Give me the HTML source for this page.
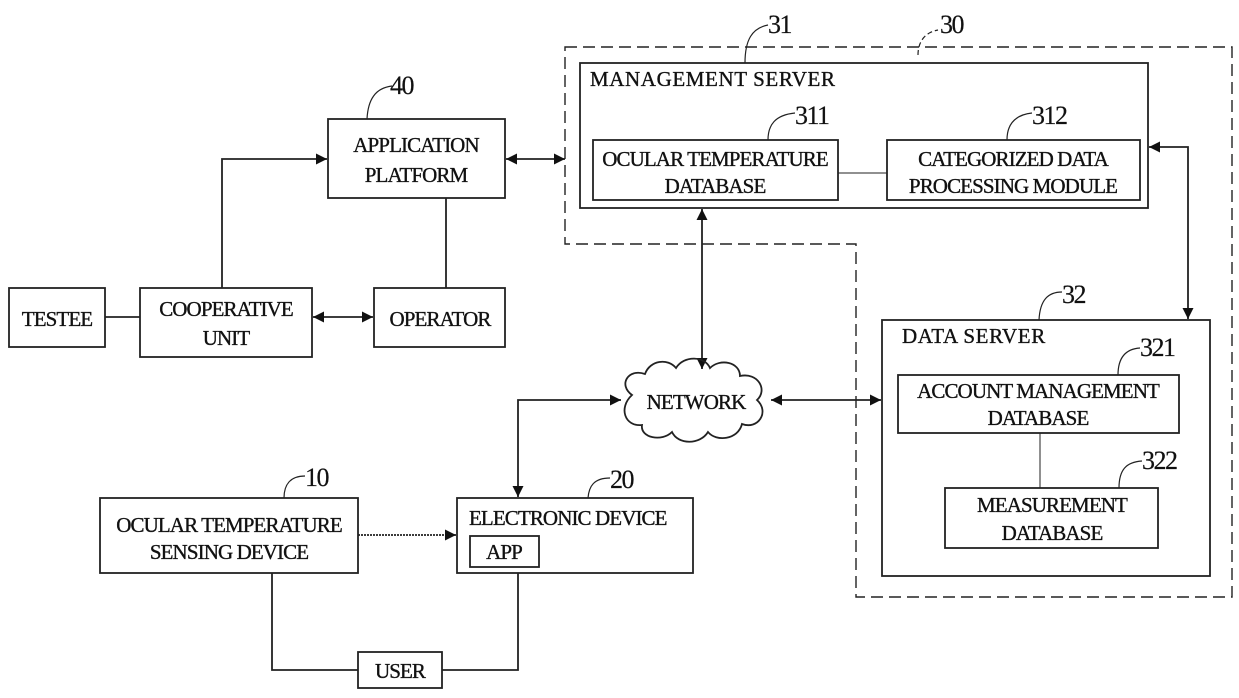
<!DOCTYPE html>
<html><head><meta charset="utf-8"><style>
html,body{margin:0;padding:0;background:#fff;}
svg{display:block;}
text{font-family:"Liberation Serif",serif;font-size:21px;fill:#111;stroke:#111;stroke-width:0.35;letter-spacing:-0.9px;}
.w{letter-spacing:0.6px;}
.n{font-size:26px;letter-spacing:-1.5px;stroke-width:0.2;}
</style></head><body>
<svg width="1239" height="698" viewBox="0 0 1239 698" xmlns="http://www.w3.org/2000/svg">
<defs>
<marker id="a" viewBox="0 0 10 10" refX="10" refY="5" markerWidth="11" markerHeight="11" orient="auto-start-reverse" markerUnits="userSpaceOnUse"><path d="M0,0 L10,5 L0,10 z" fill="#111"/></marker>
</defs>
<g fill="none" stroke="#222" stroke-width="1.8">
<path d="M565,47 H1232 V597 H856 V244 H565 Z" stroke-dasharray="12,6" stroke-width="1.4"/>
<rect x="9" y="288" width="96" height="59"/>
<rect x="140" y="288" width="172" height="69"/>
<rect x="374" y="288" width="131" height="59"/>
<rect x="328" y="119" width="177" height="79"/>
<rect x="580" y="63" width="568" height="145"/>
<rect x="593" y="140" width="245" height="60"/>
<rect x="887" y="140" width="253" height="60"/>
<rect x="882" y="320" width="328" height="256"/>
<rect x="898" y="375" width="281" height="58"/>
<rect x="945" y="488" width="213" height="60"/>
<rect x="100" y="498" width="258" height="75"/>
<rect x="457" y="498" width="236" height="75"/>
<rect x="470" y="536" width="69" height="31"/>
<rect x="358" y="652" width="84" height="36"/>
<path d="M105,317 H140"/>
<path d="M446,198 V288"/>
<path d="M838,173 H887" stroke-width="1"/>
<path d="M1040,433 V488" stroke-width="1"/>
<path d="M272,573 V670 H358"/>
<path d="M442,670 H518 V573"/>
<path d="M222,288 V159 H327" marker-end="url(#a)"/>
<path d="M313,317 H373" marker-start="url(#a)" marker-end="url(#a)"/>
<path d="M506,159 H565" marker-start="url(#a)" marker-end="url(#a)"/>
<path d="M1149,147 H1188 V319" marker-start="url(#a)" marker-end="url(#a)"/>
<path d="M702,209 V369" marker-start="url(#a)" marker-end="url(#a)"/>
<path d="M771,400 H881" marker-start="url(#a)" marker-end="url(#a)"/>
<path d="M621,400 H518 V497" marker-start="url(#a)" marker-end="url(#a)"/>
<path d="M358,535 H456" marker-end="url(#a)" stroke-dasharray="2,1"/>
<path d="M632,395 C618,385 628,368 645,374 C650,360 668,358 676,368 C684,355 705,356 710,368 C720,358 740,362 740,376 C758,372 768,390 757,400 C770,412 758,430 742,424 C738,440 716,442 708,432 C700,445 678,445 672,432 C662,442 640,438 642,425 C625,427 618,408 632,395 Z"/>
<path d="M367,119 C368,100 375,88 392,86" stroke-width="1.2"/>
<path d="M745,63 C745,40 752,28 768,25" stroke-width="1.2"/>
<path d="M918,55 C918,45 922,33 938,30" stroke-width="1.2" stroke-dasharray="5,3"/>
<path d="M768,140 C768,125 775,115 795,113" stroke-width="1.2"/>
<path d="M1007,140 C1007,125 1014,115 1032,113" stroke-width="1.2"/>
<path d="M1039,320 C1040,300 1048,292 1062,292" stroke-width="1.2"/>
<path d="M1118,375 C1118,358 1125,349 1140,348" stroke-width="1.2"/>
<path d="M1119,488 C1119,470 1126,462 1142,461" stroke-width="1.2"/>
<path d="M284,498 C284,485 290,476 305,476" stroke-width="1.2"/>
<path d="M588,498 C589,486 594,478 610,478" stroke-width="1.2"/>
</g>
<text x="57" y="326" text-anchor="middle">TESTEE</text>
<text x="226" y="316" text-anchor="middle">COOPERATIVE</text>
<text x="226" y="345" text-anchor="middle">UNIT</text>
<text x="440" y="326" text-anchor="middle">OPERATOR</text>
<text x="416" y="152" text-anchor="middle">APPLICATION</text>
<text x="416" y="182" text-anchor="middle">PLATFORM</text>
<text class="w" x="590" y="86">MANAGEMENT SERVER</text>
<text x="715" y="166" text-anchor="middle">OCULAR TEMPERATURE</text>
<text x="715" y="193" text-anchor="middle">DATABASE</text>
<text x="1013" y="166" text-anchor="middle">CATEGORIZED DATA</text>
<text x="1013" y="193" text-anchor="middle">PROCESSING MODULE</text>
<text class="w" x="902" y="343">DATA SERVER</text>
<text x="1038" y="398" text-anchor="middle">ACCOUNT MANAGEMENT</text>
<text x="1038" y="425" text-anchor="middle">DATABASE</text>
<text x="1052" y="512" text-anchor="middle">MEASUREMENT</text>
<text x="1052" y="540" text-anchor="middle">DATABASE</text>
<text x="696" y="409" text-anchor="middle">NETWORK</text>
<text x="229" y="532" text-anchor="middle">OCULAR TEMPERATURE</text>
<text x="229" y="559" text-anchor="middle">SENSING DEVICE</text>
<text x="469" y="525">ELECTRONIC DEVICE</text>
<text x="504" y="559" text-anchor="middle">APP</text>
<text x="400" y="678" text-anchor="middle">USER</text>
<text class="n" x="390" y="94">40</text>
<text class="n" x="768" y="33">31</text>
<text class="n" x="940" y="33">30</text>
<text class="n" x="795" y="124">311</text>
<text class="n" x="1032" y="124">312</text>
<text class="n" x="1062" y="303">32</text>
<text class="n" x="1140" y="356">321</text>
<text class="n" x="1142" y="469">322</text>
<text class="n" x="305" y="486">10</text>
<text class="n" x="610" y="488">20</text>
</svg>
</body></html>
